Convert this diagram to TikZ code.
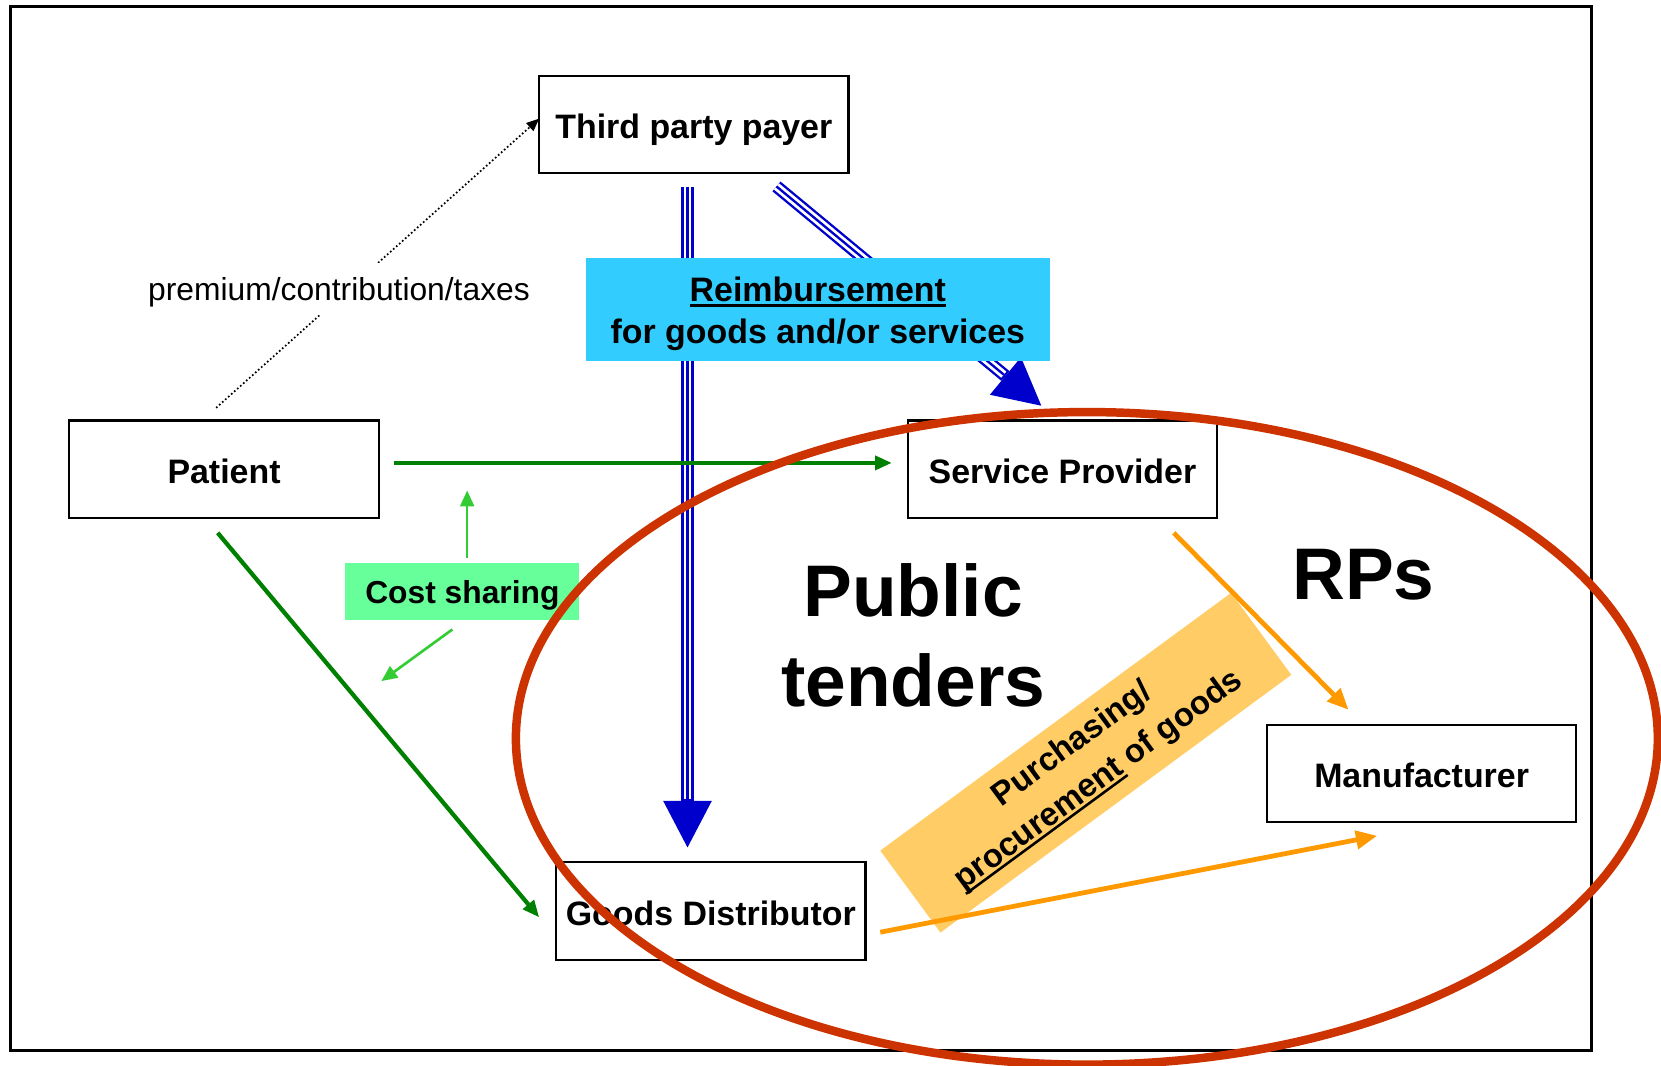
\documentclass[tikz,border=0pt]{standalone}
\usepackage{fontspec}
\setmainfont{Liberation Sans}
\usetikzlibrary{arrows.meta}
\definecolor{dblue}{HTML}{0000CC}
\definecolor{cyanlab}{HTML}{33CCFF}
\definecolor{dgreen}{HTML}{008000}
\definecolor{lgreen}{HTML}{33CC33}
\definecolor{costfill}{HTML}{66FF99}
\definecolor{orangeln}{HTML}{FF9900}
\definecolor{orangefill}{HTML}{FFCC66}
\definecolor{ellred}{HTML}{CC3300}
\newcommand\triplearrow[2]{%
  \draw[dblue,line width=12pt,-{Triangle[length=44pt,width=46pt,line width=0pt]}] (#1) -- (#2);
  \draw[white,line width=7.5pt,shorten >=46pt] (#1) -- (#2);
  \draw[dblue,line width=2.2pt,shorten >=46pt] (#1) -- (#2);}
\newcommand\thickul[1]{\setbox0\hbox{#1}\rlap{\rule[-5pt]{\wd0}{2.4pt}}\box0\relax}
\begin{document}
\begin{tikzpicture}[x=1pt,y=-1pt,
  box/.style={draw,line width=2pt,minimum width=292pt,minimum height=92pt,inner sep=0pt,
    text height=27pt,text depth=0pt,
    font=\fontsize{32}{38}\selectfont\bfseries},
  greenarrow/.style={dgreen,line width=4pt,-{Triangle[length=16pt,width=13pt]}},
  lgarrow/.style={lgreen,line width=2.5pt,-{Triangle[length=15pt,width=13pt]}},
  orarrow/.style={orangeln,line width=4.5pt,-{Triangle[length=20pt,width=17pt]}},
  lab/.style={inner sep=0pt,align=center}]
\useasboundingbox (0,0) rectangle (1568,1006);
\draw[line width=3pt] (10,6) rectangle (1502,992);

% boxes
\node[box] (tpp) at (655,117.5) {Third party payer};
\node[box] (pat) at (211.5,443) {Patient};
\node[box] (sp) at (1003,443) {Service Provider};
\node[box] (man) at (1342,730) {Manufacturer};
\node[box] (gd) at (671,860) {Goods Distributor};

% free ends
\coordinate (bvS) at (649,177);
\coordinate (bvE) at (649,800);
\coordinate (bdS) at (733,176);
\coordinate (bdE) at (983,383);
\coordinate (dotS) at (204,385);
\coordinate (dotE) at (509,112);

% blue reimbursement arrows
\triplearrow{bvS}{bvE}
\triplearrow{bdS}{bdE}

% reimbursement label
\node[fill=cyanlab,minimum width=438pt,minimum height=97pt,inner sep=0pt] (reimb) at (772,292.5) {};
\node[lab,font=\fontsize{32}{40}\selectfont\bfseries] (reimbT) at (772,296.5)
  {\thickul{Reimbursement}\\for goods and/or services};

% dotted premium arrow
\draw[line width=1.6pt,dash pattern=on 1.6pt off 2.2pt,-{Triangle[length=12pt,width=10pt]}] (dotS) -- (dotE);
\node[fill=white,inner xsep=2pt,inner ysep=14pt,text height=21.5pt,text depth=0pt,
  font=\fontsize{30}{36}\selectfont] (prem) at (320,273) {premium/contribution/taxes};

% green arrows
\draw[greenarrow] ([xshift=13pt,yshift=6pt]pat.east) -- ([xshift=-14pt,yshift=6pt]sp.west);
\draw[greenarrow] ([xshift=-6pt,yshift=-13pt]pat.south) -- ([xshift=-15pt,yshift=-6pt]gd.west);

% cost sharing
\node[fill=costfill,minimum width=221pt,minimum height=54pt,inner sep=0pt,
  text height=23.5pt,text depth=0pt,
  font=\fontsize{30}{36}\selectfont\bfseries] (cost) at (436.5,558) {Cost sharing};
\coordinate (csUp) at (441,463);
\coordinate (csDn) at (360,643);
\draw[lgarrow] ([xshift=4.5pt,yshift=4pt]cost.north) -- (csUp);
\draw[lgarrow] ([xshift=-9.5pt,yshift=-9pt]cost.south) -- (csDn);

% purchasing label
\node[fill=orangefill,rotate=36.3,minimum width=411pt,minimum height=96pt,lab,
  font=\fontsize{31}{42}\selectfont\bfseries] (purch) at (1025,720)
  {Purchasing/\\\thickul{procurement} of goods};

% orange arrows
\coordinate (oA) at (1108,503);
\coordinate (oB) at (1273,670);
\coordinate (oC) at (831,880);
\coordinate (oD) at (1300,789);
\draw[orarrow] (oA) -- (oB);
\draw[orarrow] (oC) -- (oD);

% big texts
\node[lab,font=\fontsize{69}{85}\selectfont\bfseries] (pt) at (862,600) {Public\\tenders};
\node[lab,font=\fontsize{69}{85}\selectfont\bfseries] (rps) at (1287,543) {RPs};

% ellipse
\draw[ellred,line width=8pt] (1026,697) ellipse [x radius=539pt, y radius=308pt];
\end{tikzpicture}
\end{document}
